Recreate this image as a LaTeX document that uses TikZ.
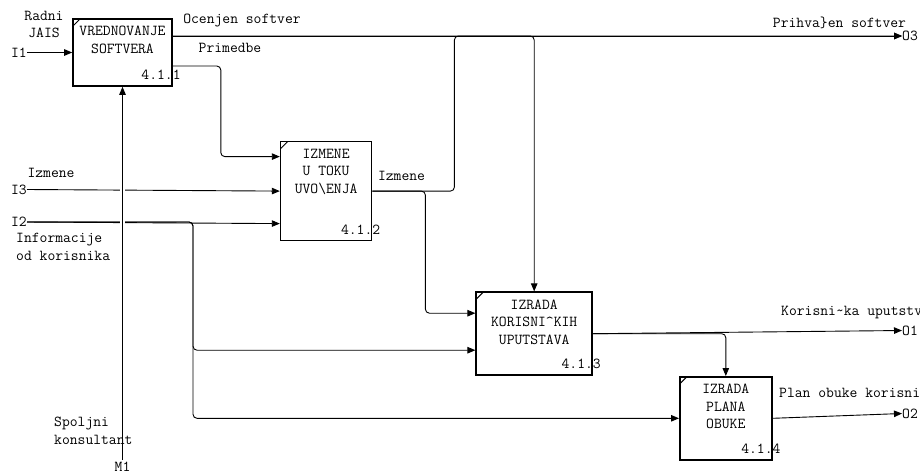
\documentclass[tikz,border=0pt]{standalone}
\usepackage{tikz}
\usetikzlibrary{arrows.meta, positioning}

\newcommand{\idefft}{\ttfamily\fontsize{15.2}{17.5}\selectfont}

\begin{document}
\begin{tikzpicture}[x=1pt, y=-1pt]
    \tikzstyle{fn}  = [rectangle, draw=black, line width=1.6pt, inner sep=0pt,
                       path picture={\draw[line width=1pt]
                         ([yshift=-7pt]path picture bounding box.north west) --
                         ([xshift=7pt]path picture bounding box.north west);}]
    \tikzstyle{ttl} = [anchor=north, align=center, inner sep=2pt, yshift=-6pt, font=\idefft]
    \tikzstyle{num} = [anchor=south east, inner sep=0pt, xshift=8pt, yshift=7pt, font=\idefft]
    \tikzstyle{txt} = [inner sep=2pt, font=\idefft]
    \tikzstyle{port} = [inner sep=0pt, font=\idefft]
    \tikzstyle{arr} = [-{Triangle[length=8pt, width=6.5pt]}, line width=0.9pt, rounded corners=4pt]

    \useasboundingbox (0,0) rectangle (920,474);

    % funkcije
    \node (vred) [fn, minimum width=99pt, minimum height=67pt,
                  label={[ttl]north:VREDNOVANJE\\SOFTVERA},
                  label={[num]south east:4.1.1}] at (122.5,52.5) {};
    \node (izm)  [fn, minimum width=91pt, minimum height=99pt,
                  below right=54pt and 107pt of vred,
                  label={[ttl]north:IZMENE\\U TOKU\\UVO\textbackslash ENJA},
                  label={[num]south east:4.1.2}] {};
    \node (upu)  [fn, minimum width=116pt, minimum height=83pt,
                  below right=50pt and 103pt of izm,
                  label={[ttl]north:IZRADA\\KORISNI\textasciicircum KIH\\UPUTSTAVA},
                  label={[num]south east:4.1.3}] {};
    \node (obu)  [fn, minimum width=92pt, minimum height=83pt,
                  below right=0pt and 86pt of upu,
                  label={[ttl]north:IZRADA\\PLANA\\OBUKE},
                  label={[num]south east:4.1.4}] {};

    % granice
    \node (i1) [port, anchor=east] at (27,52.5) {I1};
    \node (i3) [port, anchor=east] at (27,189.5) {I3};
    \node (i2) [port, anchor=east] at (27,222) {I2};
    \node (m1) [port, anchor=north, inner sep=2pt] at (122.5,460) {M1};
    \node (o3) [port, anchor=west] at (902,36) {O3};
    \node (o1) [port, anchor=west] at (902,330.5) {O1};
    \node (o2) [port, anchor=west] at (902,413.5) {O2};

    % strelice
    \draw[arr] (i1.east) -- (vred.west);
    \draw[arr] (vred.east |- o3) -- (o3.west);
    \draw[arr] (vred.east |- o3) -| (upu.north);
    \draw[arr] ([yshift=-13.5pt]vred.east) -- ++(48,0) |- ([yshift=34.5pt]izm.west);
    \draw[arr] (i3.east) -- (izm.west);
    \draw[arr] (i2.east) -- ([yshift=-32.5pt]izm.west);
    \draw[arr] (i2.east) -- ++(166,0) |- ([yshift=-16.5pt]upu.west);
    \draw[arr] (i2.east) -- ++(166,0) |- (obu.west);
    \draw[arr] (izm.east) -- ++(82,0) |- (o3.west);
    \draw[arr] (izm.east) -- ++(53,0) |- ([yshift=20.5pt]upu.west);
    \draw[arr] (upu.east) -- (o1.west);
    \draw[arr] (upu.east) -| (obu.north);
    \draw[arr] (obu.east) -- (o2.west);
    \draw[arr, preaction={draw=white, line width=5pt, -, shorten >=10pt}] (m1.north) -- (vred.south);

    % oznake
    \node (radni)      [txt, align=center] at (44,24.5) {Radni\\JAIS};
    \node (ocenjen)    [txt] at (242,20) {Ocenjen softver};
    \node (primedbe)   [txt] at (230,48) {Primedbe};
    \node (prihvacen)  [txt] at (839.5,23) {Prihva\}en softver};
    \node (izmenein)   [txt] at (51,173) {Izmene};
    \node (info)       [txt, align=left, anchor=west] at (14,247) {Informacije\\od korisnika};
    \node (izmeneout)  [txt] at (401.5,176) {Izmene};
    \node (korisnicka) [txt, anchor=west] at (779,313) {Korisni\textasciitilde ka uputstva};
    \node (plan)       [txt, anchor=west] at (777,393) {Plan obuke korisnika};
    \node (spoljni)    [txt, align=left, anchor=west] at (52,431) {Spoljni\\konsultant};
\end{tikzpicture}
\end{document}
